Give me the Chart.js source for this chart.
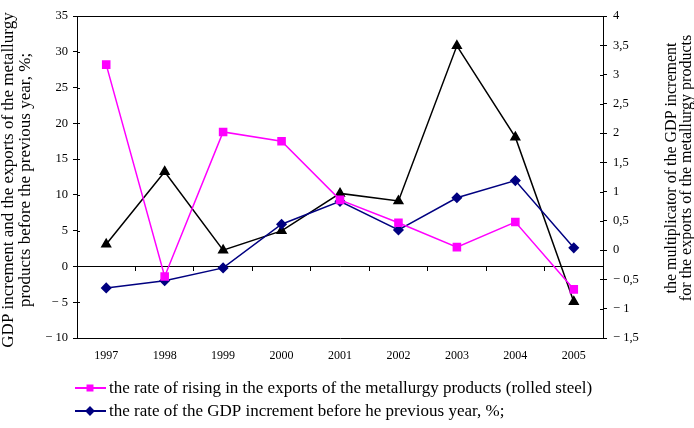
<!DOCTYPE html>
<html>
<head>
<meta charset="utf-8">
<script src="https://cdn.jsdelivr.net/npm/chart.js@4.4.0/dist/chart.umd.min.js"></script>
<style>
  html, body { margin: 0; padding: 0; background: #fff; }
</style>
</head>
<body>
<canvas id="chart" width="694" height="428"></canvas>
<script>
const years = ["1997", "1998", "1999", "2000", "2001", "2002", "2003", "2004", "2005"];
// % growth before previous year (left axis)
const exportsGrowth = [28.2, -1.4, 18.8, 17.5, 9.3, 6.1, 2.7, 6.2, -3.2];
const gdpGrowth = [-3.0, -2.0, -0.2, 5.9, 9.1, 5.1, 9.6, 12.0, 2.6];
// multiplicator (right axis)
const multiplicator = [0.10, 1.34, 0.0, 0.33, 0.97, 0.84, 3.49, 1.93, -0.88];

const exportsLabel = "the rate of rising in the exports of the metallurgy products (rolled steel)";
const gdpLabel = "the rate of the GDP increment before he previous year, %;";
const multLabel = "the multiplicator of the GDP increment for the exports of the metallurgy products";
const leftTitle = ["GDP increment and the exports of the metallurgy", "products before the previous year, %;"];
const rightTitle = ["the multiplicator of the GDP increment", "for the exports of the metallurgy products"];

const FONT = '"Liberation Serif", "Times New Roman", serif';

function fmtTick(v) {
  const s = String(Math.abs(Math.round(v * 100) / 100)).replace(".", ",");
  return v < 0 ? "\u2212 " + s : s;
}

// frame top line, inner tick marks, axis titles and the legend
const extras = {
  id: "extras",
  afterDraw(chart) {
    const ctx = chart.ctx;
    const a = chart.chartArea;
    ctx.save();
    ctx.strokeStyle = "#000";
    ctx.lineWidth = 1;
    ctx.beginPath();
    ctx.moveTo(a.left, a.top + 0.5);
    ctx.lineTo(a.right, a.top + 0.5);
    for (const id of ["y", "y1"]) {
      const sc = chart.scales[id];
      const x = id === "y" ? a.left : a.right;
      const d = id === "y" ? 3 : -3;
      sc.ticks.forEach((t, i) => {
        const py = Math.round(sc.getPixelForTick(i)) + 0.5;
        ctx.moveTo(x, py);
        ctx.lineTo(x + d, py);
      });
    }
    ctx.stroke();

    ctx.fillStyle = "#000";
    ctx.textAlign = "center";
    ctx.textBaseline = "middle";
    ctx.font = "17px " + FONT;
    const lx = [9, 26];
    leftTitle.forEach((line, i) => {
      ctx.save();
      ctx.translate(lx[i], 180);
      ctx.rotate(-Math.PI / 2);
      ctx.fillText(line, 0, 0);
      ctx.restore();
    });
    ctx.font = "16px " + FONT;
    const rx = [672, 687];
    rightTitle.forEach((line, i) => {
      ctx.save();
      ctx.translate(rx[i], 168);
      ctx.rotate(-Math.PI / 2);
      ctx.fillText(line, 0, 0);
      ctx.restore();
    });

    // legend
    ctx.font = "17px " + FONT;
    ctx.textAlign = "left";
    let row = 0;
    chart.data.datasets.forEach((ds) => {
      if (!ds.inLegend) return;
      const y = a.bottom + 50 + row * 23;
      ctx.strokeStyle = ds.borderColor;
      ctx.fillStyle = ds.backgroundColor;
      ctx.lineWidth = 2;
      ctx.beginPath();
      ctx.moveTo(75, y);
      ctx.lineTo(106, y);
      ctx.stroke();
      Chart.helpers.drawPoint(ctx, {pointStyle: ds.pointStyle, radius: 3.5, borderWidth: 1, rotation: 0}, 90, y);
      ctx.fillStyle = "#000";
      ctx.fillText(ds.label, 109, y + 1);
      row++;
    });
    ctx.restore();
  }
};

new Chart(document.getElementById("chart").getContext("2d"), {
  type: "line",
  data: {
    labels: years,
    datasets: [{
      label: exportsLabel,
      data: exportsGrowth,
      yAxisID: "y",
      borderColor: "#ff00ff",
      backgroundColor: "#ff00ff",
      borderWidth: 1.5,
      pointStyle: "rect",
      pointRadius: 5,
      inLegend: true
    }, {
      label: gdpLabel,
      data: gdpGrowth,
      yAxisID: "y",
      borderColor: "#000080",
      backgroundColor: "#000080",
      borderWidth: 1.5,
      pointStyle: "rectRot",
      pointRadius: 4.5,
      inLegend: true
    }, {
      label: multLabel,
      data: multiplicator,
      yAxisID: "y1",
      borderColor: "#000000",
      backgroundColor: "#000000",
      borderWidth: 1.5,
      pointStyle: "triangle",
      pointRadius: 5,
      inLegend: false
    }]
  },
  options: {
    responsive: false,
    animation: false,
    layout: {padding: {top: 16, left: 0, right: 0, bottom: 0}},
    elements: {line: {tension: 0}},
    plugins: {
      legend: {display: false},
      tooltip: {enabled: false}
    },
    scales: {
      x: {
        type: "category",
        position: {y: 0},
        offset: true,
        grid: {offset: true, drawOnChartArea: false, tickLength: 4, color: "#000"},
        border: {color: "#000"},
        ticks: {display: false}
      },
      x2: {
        type: "category",
        position: "bottom",
        offset: true,
        grid: {display: false, drawTicks: false},
        border: {display: true, color: "#000"},
        ticks: {padding: 11, color: "#000", font: {family: FONT, size: 12}, maxRotation: 0},
        afterFit(sc) { sc.height = 90; }
      },
      y: {
        position: "left",
        min: -10,
        max: 35,
        ticks: {stepSize: 5, padding: 5, color: "#000", font: {family: FONT, size: 12.5}, callback: fmtTick},
        grid: {drawOnChartArea: false, tickLength: 4, color: "#000"},
        border: {color: "#000"},
        afterFit(sc) { sc.width = 77; }
      },
      y1: {
        position: "right",
        min: -1.5,
        max: 4,
        ticks: {stepSize: 0.5, padding: 6, color: "#000", font: {family: FONT, size: 12.5}, callback: fmtTick},
        grid: {drawOnChartArea: false, tickLength: 4, color: "#000"},
        border: {color: "#000"},
        afterFit(sc) { sc.width = 91; }
      }
    }
  },
  plugins: [extras]
});
</script>
</body>
</html>
